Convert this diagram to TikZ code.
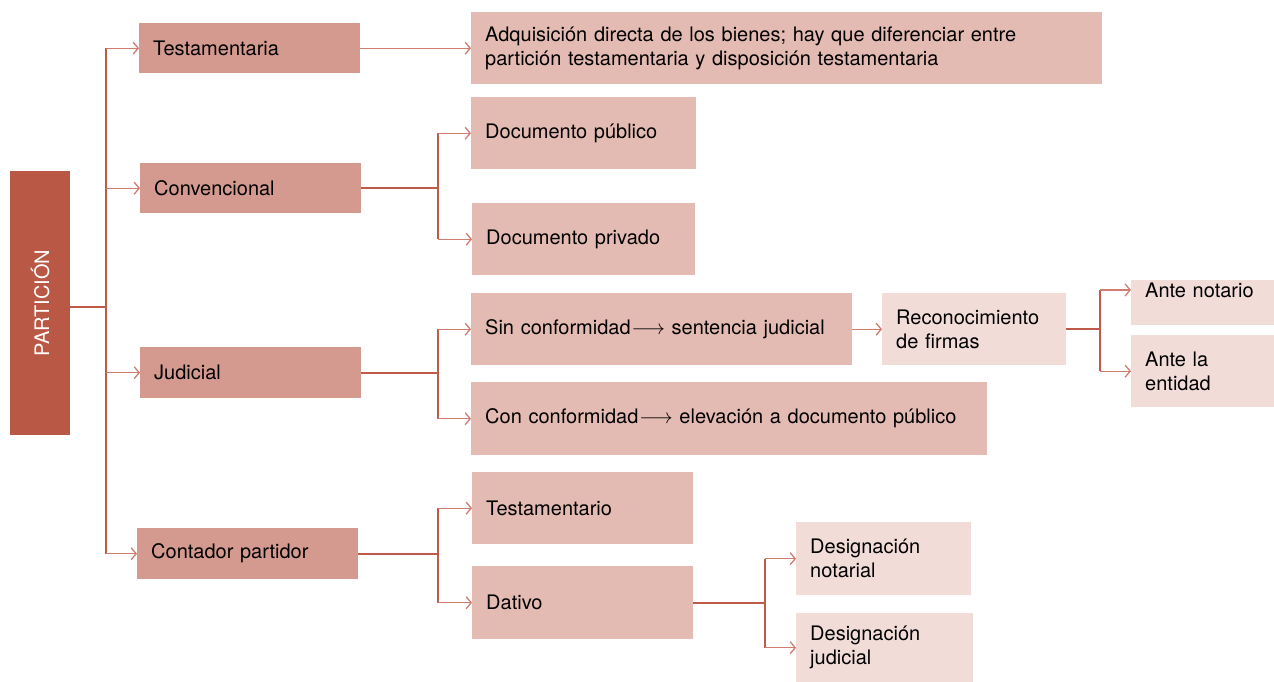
\documentclass[tikz,border=0pt]{standalone}
\usepackage{fontspec}
\setmainfont{TeX Gyre Heros}
\usetikzlibrary{arrows.meta}
\definecolor{cpart}{HTML}{BA5846}
\definecolor{clevA}{HTML}{D49A8F}
\definecolor{clevB}{HTML}{E4BBB3}
\definecolor{clevC}{HTML}{F1DCD8}
\definecolor{ctrunk}{HTML}{BD5A48}
\definecolor{cbranch}{HTML}{D07D6E}
\tikzset{
  box/.style={rectangle, anchor=north west, inner xsep=14pt, inner ysep=0pt,
    font=\fontsize{20}{24}\selectfont, align=left, text=black},
  boxA/.style={box, fill=clevA},
  boxB/.style={box, fill=clevB},
  boxC/.style={box, fill=clevC},
  trunk/.style={draw=ctrunk, line width=2pt},
  branch/.style={draw=cbranch, line width=1.3pt, -{Straight Barb[length=5pt,width=12pt,line width=1.3pt]}},
}
\begin{document}
\begin{tikzpicture}[x=1pt,y=-1pt]
\useasboundingbox (0,0) rectangle (1274,682);
% root
\node[fill=cpart, anchor=north west, minimum width=60pt, minimum height=264pt, inner sep=0pt] (part) at (10,171) {};
\node[rotate=90, text=white, font=\fontsize{20}{24}\selectfont] (partlbl) at (part.center) {PARTICIÓN};
% level A
\node[boxA, text width=193pt, minimum height=50pt] (testa) at (139,23) {Testamentaria};
\node[boxA, text width=193pt, minimum height=50pt] (conv) at (140,163) {Convencional};
\node[boxA, text width=193pt, minimum height=51pt] (jud) at (140,347) {Judicial};
\node[boxA, text width=193pt, minimum height=51pt] (cont) at (137,528) {Contador partidor};
% level B
\node[boxB, text width=603pt, minimum height=72pt] (adq) at (471,12) {Adquisición directa de los bienes; hay que diferenciar entre\\partición testamentaria y disposición testamentaria};
\node[boxB, text width=197pt, minimum height=72pt] (dpub) at (471,97) {Documento público};
\node[boxB, text width=195pt, minimum height=72pt] (dpriv) at (472,203) {Documento privado};
\node[boxB, text width=353pt, minimum height=72pt] (sin) at (471,293) {Sin conformidad\kern1pt$\longrightarrow$ sentencia judicial};
\node[boxB, text width=488pt, minimum height=73pt] (con) at (471,382) {Con conformidad\kern1pt$\longrightarrow$ elevación a documento público};
\node[boxB, text width=193pt, minimum height=72pt] (testo) at (472,472) {Testamentario};
\node[boxB, text width=193pt, minimum height=73pt] (dat) at (472,566) {Dativo};
% level C
\node[boxC, text width=156pt, minimum height=72pt] (reco) at (882,293) {Reconocimiento\\de firmas};
\node[boxC, text width=115pt, text height=17pt, text depth=28pt] (notario) at (1131,280) {Ante notario};
\node[boxC, text width=115pt, minimum height=72pt] (entidad) at (1131,335) {Ante la\\entidad};
\node[boxC, text width=147pt, minimum height=73pt] (dnot) at (796,522) {Designación\\notarial};
\node[boxC, text width=149pt, minimum height=69pt] (djud) at (796,613) {Designación\\judicial};
% bus coordinates
\coordinate (b0) at (106,0);
\coordinate (b1) at (438,0);
\coordinate (b2) at (1100,0);
\coordinate (b3) at (765,0);
% root bus
\draw[trunk] ([yshift=-4pt]part.east) -- ([yshift=-4pt]part.east -| b0);
\draw[trunk] (testa.west -| b0) -- (cont.west -| b0);
\foreach \n in {testa,conv,jud,cont}{\draw[branch] (\n.west -| b0) -- (\n.west);}
% testamentaria
\draw[branch] (testa.east) -- (testa.east -| adq.west);
% convencional
\draw[trunk] (conv.east) -- (conv.east -| b1);
\draw[trunk] (dpub.west -| b1) -- (dpriv.west -| b1);
\foreach \n in {dpub,dpriv}{\draw[branch] (\n.west -| b1) -- (\n.west);}
% judicial
\draw[trunk] (jud.east) -- (jud.east -| b1);
\draw[trunk] (sin.west -| b1) -- (con.west -| b1);
\foreach \n in {sin,con}{\draw[branch] (\n.west -| b1) -- (\n.west);}
% contador
\draw[trunk] (cont.east) -- (cont.east -| b1);
\draw[trunk] (testo.west -| b1) -- (dat.west -| b1);
\foreach \n in {testo,dat}{\draw[branch] (\n.west -| b1) -- (\n.west);}
% sin -> reco
\draw[branch] (sin.east) -- (reco.west);
% reco -> notario / entidad
\draw[trunk] (reco.east) -- (reco.east -| b2);
\draw[trunk] (b2 |- 0,290) coordinate (n0) -- (entidad.west -| b2);
\draw[branch] (n0) -- (n0 -| notario.west);
\draw[branch] (entidad.west -| b2) -- (entidad.west);
% dativo
\draw[trunk] (dat.east) -- (dat.east -| b3);
\draw[trunk] (dnot.west -| b3) -- (djud.west -| b3);
\foreach \n in {dnot,djud}{\draw[branch] (\n.west -| b3) -- (\n.west);}
\end{tikzpicture}
\end{document}
